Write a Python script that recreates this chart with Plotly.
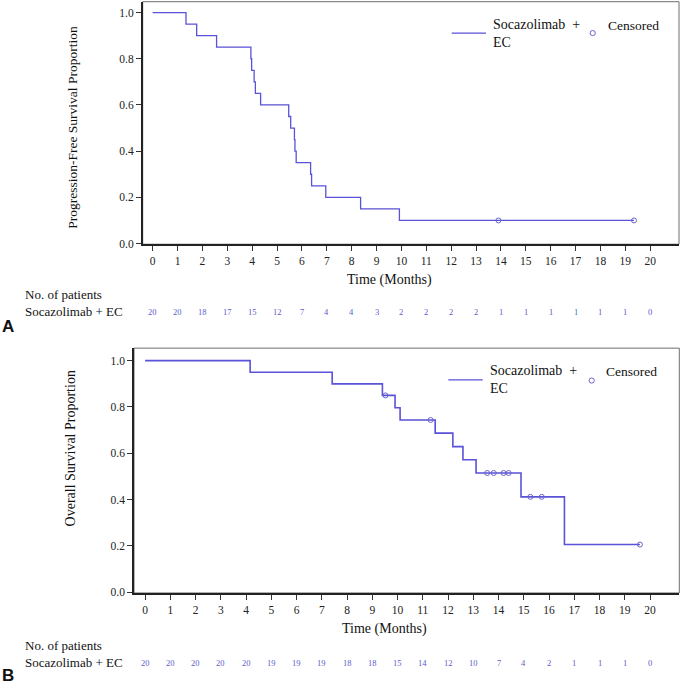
import plotly.graph_objects as go

# ---------------- data ----------------
months = list(range(0, 21))

# Panel A: progression-free survival (step-change times and levels)
pfs_times = [0, 1.34, 1.77, 2.57, 3.95, 3.98, 4.08, 4.13, 4.34, 5.47, 5.55,
             5.70, 5.72, 5.77, 6.35, 6.39, 6.96, 8.36, 9.92]
pfs_surv = [1.0, 0.95, 0.90, 0.85, 0.80, 0.75, 0.70, 0.65, 0.60, 0.55, 0.50,
            0.45, 0.40, 0.35, 0.30, 0.25, 0.20, 0.15, 0.10]
pfs_censor = [13.9, 19.35]
pfs_risk = [20, 20, 18, 17, 15, 12, 7, 4, 4, 3, 2, 2, 2, 2, 1, 1, 1, 1, 1, 1, 0]

# Panel B: overall survival
os_times = [0, 4.16, 7.41, 9.40, 9.90, 10.10, 11.49, 12.19, 12.59, 13.11,
            14.89, 16.61]
os_surv = [1.0, 0.95, 0.90, 0.85, 0.797, 0.744, 0.687, 0.629, 0.572, 0.515,
           0.412, 0.206]
os_censor = [9.52, 11.31, 13.55, 13.81, 14.20, 14.40, 15.26, 15.71, 19.60]
os_risk = [20, 20, 20, 20, 20, 19, 19, 19, 18, 18, 15, 14, 12, 10, 7, 4, 2, 1, 1, 1, 0]

y_ticks = [0.0, 0.2, 0.4, 0.6, 0.8, 1.0]
group_label = "Socazolimab + EC"

# ---------------- helpers ----------------
W, H = 682, 689
SERIF = "Liberation Serif"
LINE_COLOR = "#5a52d8"
CENS_COLOR = "#6a64cc"
RISK_COLOR = "#5d5acb"


def px(x):
    return x / W


def py(y):
    return 1 - y / H


def level_at(times, surv, t):
    val = surv[0]
    for ti, si in zip(times, surv):
        if ti <= t:
            val = si
    return val


fig = go.Figure()

panels = [
    dict(times=pfs_times, surv=pfs_surv, cens=pfs_censor, xa="x", ya="y", lw=1.3),
    dict(times=os_times, surv=os_surv, cens=os_censor, xa="x2", ya="y2", lw=1.6),
]
for p in panels:
    end_t = max(p["cens"])
    xs = p["times"] + [end_t]
    ys = p["surv"] + [p["surv"][-1]]
    fig.add_trace(go.Scatter(x=xs, y=ys, mode="lines", line=dict(shape="hv", color=LINE_COLOR, width=p["lw"]),
                             xaxis=p["xa"], yaxis=p["ya"], showlegend=False, hoverinfo="skip"))
    cy = [level_at(p["times"], p["surv"], t) for t in p["cens"]]
    fig.add_trace(go.Scatter(x=p["cens"], y=cy, mode="markers",
                             marker=dict(symbol="circle-open", size=5, color=CENS_COLOR, line=dict(width=1, color=CENS_COLOR)),
                             xaxis=p["xa"], yaxis=p["ya"], showlegend=False, hoverinfo="skip"))

# ---------------- axes ----------------
dom_top_x = [px(142.7), px(679)]
dom_top_y = [py(246), py(1.7)]
dom_bot_x = [px(134), px(679.3)]
dom_bot_y = [py(597.3), py(350.7)]

axis_common = dict(showgrid=False, zeroline=False, showline=True, linecolor="#222", linewidth=1.5,
                   ticks="outside", ticklen=5, tickcolor="#333", tickwidth=1,
                   tickfont=dict(family=SERIF, size=11.5, color="#222"))

fig.update_layout(
    xaxis=dict(domain=dom_top_x, range=[-0.4, 21.16], tickvals=months, anchor="y", **axis_common),
    yaxis=dict(domain=dom_top_y, range=[-0.003, 1.047], tickvals=y_ticks, tickformat=".1f", anchor="x", **axis_common),
    xaxis2=dict(domain=dom_bot_x, range=[-0.44, 21.16], tickvals=months, anchor="y2", **axis_common),
    yaxis2=dict(domain=dom_bot_y, range=[-0.003, 1.054], tickvals=y_ticks, tickformat=".1f", anchor="x2", **axis_common),
)

shapes = []
# gray frames
for dx, dy in [(dom_top_x, dom_top_y), (dom_bot_x, dom_bot_y)]:
    shapes.append(dict(type="rect", xref="paper", yref="paper", x0=dx[0], x1=dx[1], y0=dy[0], y1=dy[1],
                       line=dict(color="#6e6e6e", width=1), fillcolor="rgba(0,0,0,0)", layer="below"))

annotations = []


def txt(text, x, y, size=12, xanchor="left", yanchor="middle", color="#111", family=SERIF, angle=0, bold=False, xref="paper"):
    annotations.append(dict(text=("<b>%s</b>" % text) if bold else text, x=x, y=y, xref=xref, yref="paper",
                            showarrow=False, xanchor=xanchor, yanchor=yanchor, textangle=angle, align="left",
                            font=dict(size=size, color=color, family=family)))


# axis titles
txt("Progression-Free Survival Proportion", px(71.7), py(128), size=13.5, xanchor="center", angle=-90)
txt("Overall Survival Proportion", px(70.7), py(452), size=14, xanchor="center", angle=-90)
txt("Time (Months)", px(389), py(282), size=14, xanchor="center")
txt("Time (Months)", px(384), py(634), size=14, xanchor="center")

# legends
for (lx0, lx1, ly, tx, ty, cx, cy, ctx) in [
    (451.7, 486, 33.3, 491, 34.2, 592.7, 33.3, 605.7),
    (448.3, 482.7, 382.7, 487.6, 382.5, 591.7, 383.3, 604.3),
]:
    shapes.append(dict(type="line", xref="paper", yref="paper", x0=px(lx0), x1=px(lx1), y0=py(ly), y1=py(ly),
                       line=dict(color=LINE_COLOR, width=1.3)))
    shapes.append(dict(type="circle", xref="paper", yref="paper", x0=px(cx - 2.6), x1=px(cx + 2.6),
                       y0=py(cy + 2.6), y1=py(cy - 2.6), line=dict(color=CENS_COLOR, width=1)))
    txt("Socazolimab&nbsp; +<br>EC", px(tx), py(ty), size=14)
    txt("Censored", px(ctx), py(ty - 8.4), size=13.5)

# risk tables
txt("No. of patients", px(23), py(297), size=13)
txt(group_label, px(23), py(314), size=13)
for m, n in zip(months, pfs_risk):
    txt(str(n), m, py(314), size=8.5, xanchor="center", color=RISK_COLOR, xref="x")

txt("No. of patients", px(23), py(650), size=13)
txt(group_label, px(23), py(667), size=13)
for m, n in zip(months, os_risk):
    txt(str(n), m, py(668), size=8.5, xanchor="center", color=RISK_COLOR, xref="x2")

# panel letters
txt("A", px(0), py(329), size=17, family="Liberation Sans", bold=True)
txt("B", px(0), py(680), size=17, family="Liberation Sans", bold=True)

fig.update_layout(
    width=W, height=H, margin=dict(l=0, r=0, t=0, b=0),
    paper_bgcolor="white", plot_bgcolor="white",
    shapes=shapes, annotations=annotations, showlegend=False,
)

fig.write_html("out.html", config={"displayModeBar": False},
               post_script="document.body.style.margin='0';document.body.style.padding='0';"
                           "document.documentElement.style.overflow='hidden';")
